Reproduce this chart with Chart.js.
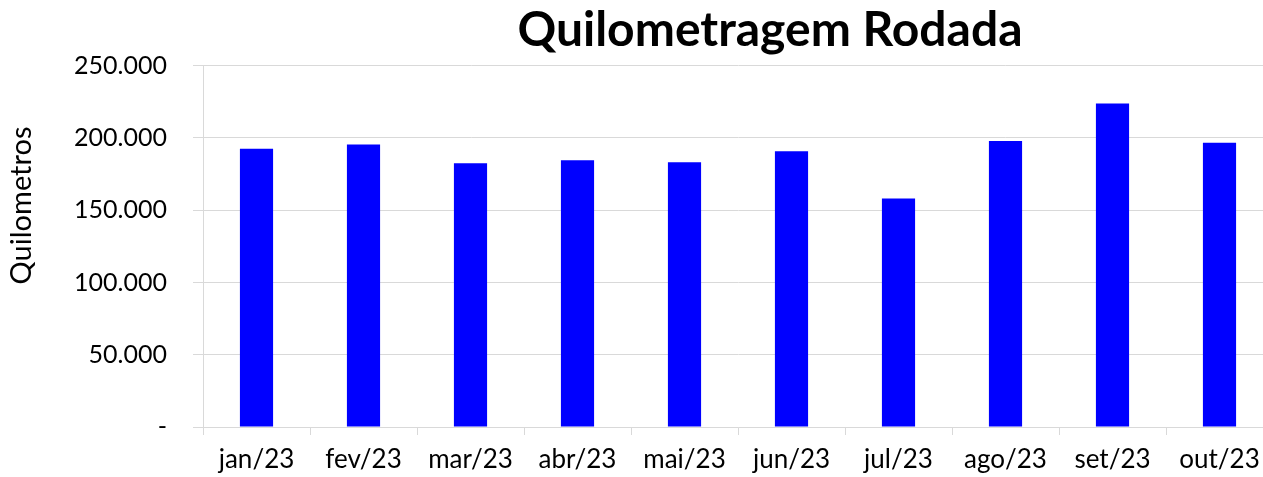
<!DOCTYPE html>
<html>
<head>
<meta charset="utf-8">
<script src="https://cdn.jsdelivr.net/npm/chart.js@4"></script>
<style>
    html, body { margin: 0; padding: 0; background: #fff; overflow: hidden; }
    #wrap { position: relative; width: 1540px; height: 477px; }
</style>
</head>
<body>
<div id="wrap"><canvas id="kmChart"></canvas></div>
<script>
const months = ["jan/23", "fev/23", "mar/23", "abr/23", "mai/23", "jun/23", "jul/23", "ago/23", "set/23", "out/23"];
const kmValues = [192400, 195400, 182500, 184500, 183100, 190700, 158100, 197900, 223800, 196700];
const yTicks = [0, 50000, 100000, 150000, 200000, 250000];

const fontName = "Lato, 'Open Sans', sans-serif";

function fmtKm(v) {
    if (v == 0) return '-';
    return String(v).replace(/\B(?=(\d{3})+(?!\d))/g, '.');
}

// the title in the original sits centred over the whole (wider) sheet, not the padded area
const titleSpan = {
    id: 'titleSpan',
    afterLayout(chart) {
        if (chart.titleBlock) {
            chart.titleBlock.left = 0;
            chart.titleBlock.right = chart.width;
        }
    }
};

let kmChart = new Chart(document.getElementById('kmChart'), {
    type: 'bar',
    data: {
        labels: months,
        datasets: [{
            label: 'Quilometros',
            data: kmValues,
            backgroundColor: '#0000ff',
            borderWidth: 0,
            barPercentage: 0.31,
            categoryPercentage: 1
        }]
    },
    options: {
        responsive: true,
        maintainAspectRatio: false,
        animation: false,
        layout: {
            padding: { left: 0, right: 267, top: 0, bottom: 0 }
        },
        plugins: {
            legend: { display: false },
            tooltip: { enabled: false },
            title: {
                display: true,
                text: 'Quilometragem Rodada',
                color: '#000',
                font: { family: fontName, size: 48, weight: 'bold' },
                padding: { top: 2, bottom: 6 }
            }
        },
        scales: {
            x: {
                grid: {
                    drawOnChartArea: false,
                    offset: true,
                    color: '#d9d9d9',
                    tickLength: 8,
                    lineWidth: 1
                },
                border: { color: '#d9d9d9', width: 1 },
                ticks: {
                    color: '#000',
                    font: { family: fontName, size: 26 },
                    padding: 9,
                    maxRotation: 0,
                    autoSkip: false
                },
                afterFit: (scale) => { scale.height = 50; }
            },
            y: {
                min: 0,
                max: 250000,
                afterBuildTicks: (scale) => {
                    scale.ticks = yTicks.map(v => ({ value: v }));
                },
                grid: {
                    color: '#d9d9d9',
                    tickLength: 10,
                    lineWidth: 1
                },
                border: { color: '#d9d9d9', width: 1 },
                ticks: {
                    color: '#000',
                    font: { family: fontName, size: 25 },
                    padding: 26,
                    callback: (value) => fmtKm(value)
                },
                title: {
                    display: true,
                    // leading spaces push the label up the axis like in the original
                    text: '           Quilometros',
                    color: '#000',
                    font: { family: fontName, size: 29 },
                    padding: { top: 4, bottom: 0 }
                },
                afterFit: (scale) => { scale.width = 203; }
            }
        }
    },
    plugins: [titleSpan]
});
</script>
</body>
</html>
